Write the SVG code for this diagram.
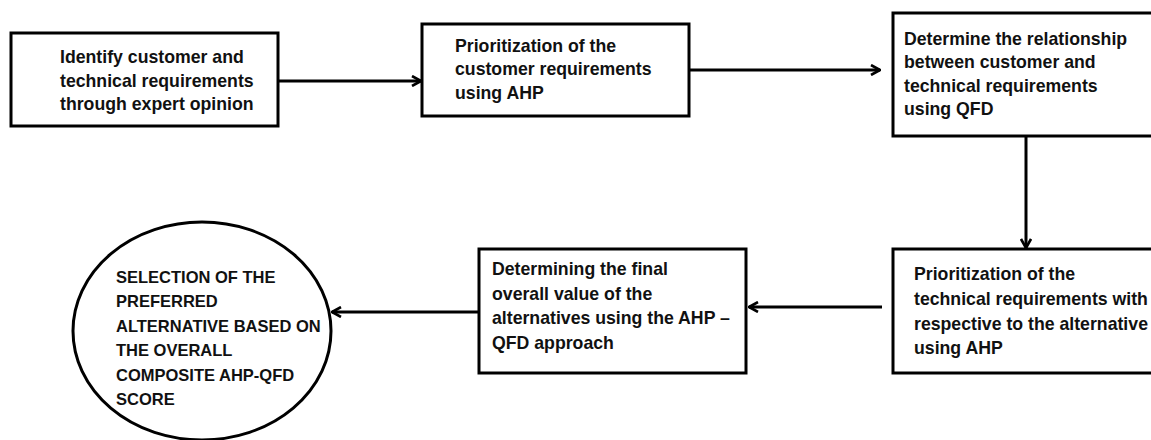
<svg xmlns="http://www.w3.org/2000/svg" width="1151" height="440" viewBox="0 0 1151 440">
  <style>
    .box { fill: #ffffff; stroke: #000000; stroke-width: 3; }
    .txt { font-family: "Liberation Sans", Arial, sans-serif; font-weight: bold; font-size: 17.7px; fill: #111111; }
    .cap { font-size: 16.5px; }
    .conn { fill: none; stroke: #000000; stroke-width: 3; }
  </style>
  <defs>
    <marker id="arrow" viewBox="0 0 12 12" refX="11" refY="6" markerWidth="12" markerHeight="12" markerUnits="userSpaceOnUse" orient="auto">
      <path d="M2,1 L11,6 L2,11" fill="none" stroke="#000000" stroke-width="2.6"/>
    </marker>
  </defs>
  <rect width="1151" height="440" fill="#ffffff"/>

  <g id="connectors">
    <line class="conn" x1="278" y1="81" x2="421" y2="81" marker-end="url(#arrow)"/>
    <line class="conn" x1="689" y1="70" x2="880" y2="70" marker-end="url(#arrow)"/>
    <line class="conn" x1="1026" y1="136" x2="1026" y2="248" marker-end="url(#arrow)"/>
    <line class="conn" x1="882" y1="307" x2="749" y2="307" marker-end="url(#arrow)"/>
    <line class="conn" x1="479" y1="312" x2="332" y2="312" marker-end="url(#arrow)"/>
  </g>

  <g id="node1">
    <rect class="box" x="11" y="33" width="267" height="93"/>
    <text class="txt" x="60" y="63">Identify customer and</text>
    <text class="txt" x="60" y="87">technical requirements</text>
    <text class="txt" x="60" y="110">through expert opinion</text>
  </g>

  <g id="node2">
    <rect class="box" x="422" y="24" width="267" height="92"/>
    <text class="txt" x="455" y="52">Prioritization of the</text>
    <text class="txt" x="455" y="75">customer requirements</text>
    <text class="txt" x="455" y="99">using AHP</text>
  </g>

  <g id="node3">
    <rect class="box" x="893" y="13" width="262" height="123"/>
    <text class="txt" x="904" y="45">Determine the relationship</text>
    <text class="txt" x="904" y="68">between customer and</text>
    <text class="txt" x="904" y="92">technical requirements</text>
    <text class="txt" x="904" y="115">using QFD</text>
  </g>

  <g id="node4">
    <rect class="box" x="893" y="249" width="262" height="124"/>
    <text class="txt" x="914" y="280">Prioritization of the</text>
    <text class="txt" x="914" y="305">technical requirements with</text>
    <text class="txt" x="914" y="330">respective to the alternative</text>
    <text class="txt" x="914" y="354">using AHP</text>
  </g>

  <g id="node5">
    <rect class="box" x="479" y="249" width="267" height="124"/>
    <text class="txt" x="492" y="275">Determining the final</text>
    <text class="txt" x="492" y="300">overall value of the</text>
    <text class="txt" x="492" y="324">alternatives using the AHP –</text>
    <text class="txt" x="492" y="349">QFD approach</text>
  </g>

  <g id="node6">
    <ellipse class="box" cx="202" cy="331" rx="129" ry="109"/>
    <text class="txt cap" x="116" y="283">SELECTION OF THE</text>
    <text class="txt cap" x="116" y="307">PREFERRED</text>
    <text class="txt cap" x="116" y="332">ALTERNATIVE BASED ON</text>
    <text class="txt cap" x="116" y="356">THE OVERALL</text>
    <text class="txt cap" x="116" y="381">COMPOSITE AHP-QFD</text>
    <text class="txt cap" x="116" y="405">SCORE</text>
  </g>
</svg>
